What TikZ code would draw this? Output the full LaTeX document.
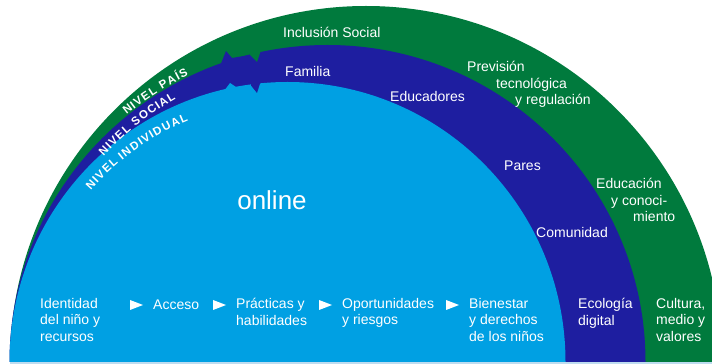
\documentclass[tikz,border=0pt]{standalone}
\usepackage{fontspec}
\setmainfont{Liberation Sans}
\usetikzlibrary{decorations.text}
\definecolor{pais}{RGB}{0,122,61}
\definecolor{social}{RGB}{30,30,160}
\definecolor{indiv}{RGB}{0,160,227}
\definecolor{suelo}{RGB}{190,220,240}

\begin{document}
\begin{tikzpicture}[x=1pt,y=1pt,
  lbl/.style={text=white,font=\fontsize{14}{16.5}\selectfont,inner sep=0pt,
    anchor=north west,align=left,execute at begin node=\strut},
  nivel/.style={decorate,decoration={text effects along path,text={#1},
    text effects/fit text to path,
    text effects/characters={text along path,text=white,inner sep=0pt,
      font=\fontsize{11.5}{13}\selectfont\bfseries}}}]
  \useasboundingbox (0,0) rectangle (712,364);
  \begin{scope}
    \clip (0,2) rectangle (712,364);
    \fill[pais] (366,2) ellipse [x radius=356pt, y radius=356pt];
    \fill[social] (327.5,2) ellipse [x radius=318pt, y radius=317pt];
    % tear between pais and social
    \fill[social] (221,300.5) -- (226,313) -- (232,306) -- (250,309) -- (250,300) -- (221,296) -- cycle;
    \fill[pais] (250,309) -- (257,302) -- (260.5,312.5) -- (262,318) -- (250,318) -- cycle;
    \fill[indiv] (287.5,2) ellipse [x radius=278pt, y radius=280pt];
    % tear between social and indiv
    \fill[indiv] (224,273) -- (230,281) -- (236,277) -- (251,278.5) -- (251,270) -- (224,268) -- cycle;
    \fill[social] (251,278.5) -- (257,271) -- (260,280.5) -- (262,284) -- (251,284) -- cycle;
  \end{scope}
  \fill[suelo] (10,0) rectangle (712,2);

  % levels along the arcs
  \path[nivel={NIVEL PAÍS}] (327.5,2) ++(129.1:318.5pt) arc[start angle=129.1, end angle=115.9, radius=318.5pt];
  \path[nivel={NIVEL SOCIAL}] (327.5,2) ++(137.4:304pt) arc[start angle=137.4, end angle=119.9, radius=304pt];
  \path[nivel={NIVEL INDIVIDUAL}] (287.5,2) ++(138.9:261pt) arc[start angle=138.9, end angle=112.3, radius=261pt];

  \node[lbl] (inclusion) at (283,338) {Inclusión Social};
  \node[lbl] (familia) at (285,299) {Familia};
  \node[lbl] (prevision) at (467,303) {Previsión\\\hspace*{29pt}tecnológica\\\hspace*{48pt}y regulación};
  \node[lbl] (educadores) at (390,274) {Educadores};
  \node[lbl] (pares) at (504,205) {Pares};
  \node[lbl] (educacion) at (596,186) {Educación\\\hspace*{15pt}y conoci-\\\hspace*{37pt}miento};
  \node[lbl] (comunidad) at (536,138) {Comunidad};
  \node[text=white,font=\fontsize{26}{30}\selectfont] (online) at (272,164) {online};

  % steps of the individual level
  \node[lbl] (identidad) at (40,66) {Identidad\\del niño y\\recursos};
  \node[lbl] (acceso) at (153,66) {Acceso};
  \node[lbl] (practicas) at (236,66) {Prácticas y\\habilidades};
  \node[lbl] (oportunidades) at (342,66) {Oportunidades\\y riesgos};
  \node[lbl] (bienestar) at (469,66) {Bienestar\\y derechos\\de los niños};
  \node[lbl] (ecologia) at (578,66) {Ecología\\digital};
  \node[lbl] (cultura) at (656,66) {Cultura,\\medio y\\valores};
  \foreach \n in {acceso,practicas,oportunidades,bienestar}
    \fill[white] ([xshift=-23pt,yshift=-2pt]\n.north west) -- ++(13,-5) -- ++(-13,-5) -- cycle;
\end{tikzpicture}
\end{document}
